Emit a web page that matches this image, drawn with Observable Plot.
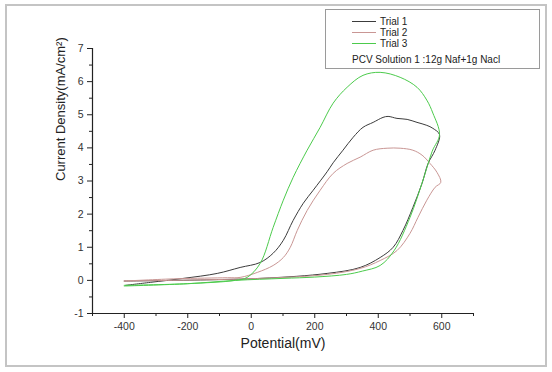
<!DOCTYPE html>
<html>
<head>
<meta charset="utf-8">
<script src="https://cdn.jsdelivr.net/npm/d3@7"></script>
<script src="https://cdn.jsdelivr.net/npm/@observablehq/plot@0.6"></script>
<style>
  html, body { margin: 0; padding: 0; background: #fff; }
  #wrap { position: relative; width: 552px; height: 372px; font-family: "Liberation Sans", Arial, sans-serif; overflow: hidden; }
  #border { position: absolute; left: 5px; top: 4px; width: 538px; height: 359px; border: 2px solid #c4c4c4; }
  #legend { position: absolute; left: 325px; top: 9px; width: 213px; height: 58px; border: 1px solid #9a9a9a; background: #fff; font-size: 10px; color: #222; }
  .row { position: absolute; left: 26px; height: 11px; display: flex; align-items: center; }
  .row svg { margin-right: 4px; }
  #note { position: absolute; left: 26px; top: 44px; font-size: 10px; white-space: nowrap; }
  #chart { position: absolute; left: 0; top: 0; }
</style>
</head>
<body>
<div id="wrap">
  <div id="border"></div>
  <div id="chart"></div>
  <div id="legend"></div>
</div>
<script>
// Series names and colours
const seriesNames = ["Trial 1", "Trial 2", "Trial 3"];
const seriesColors = ["#3c3c3c", "#c99694", "#4ccb4c"];
const noteText = "PCV Solution 1 :12g Naf+1g Nacl";

// Trial 1 (forward scan, then reverse scan)
const trial1Potential = [-400, 28, 239, 343, 406, 447, 478, 509, 538, 557, 579, 593,
  572, 553, 522, 491, 459, 431, 415, 384, 352, 321, 289, 258, 239, 195, 164, 132, 101, 69, 28, -35, -107, -214, -318, -396];
const trial1Current = [-0.02, 0.06, 0.21, 0.39, 0.69, 1.0, 1.51, 2.2, 2.93, 3.53, 3.93, 4.4,
  4.59, 4.68, 4.77, 4.86, 4.89, 4.95, 4.92, 4.77, 4.62, 4.32, 3.93, 3.55, 3.28, 2.72, 2.33, 1.81, 1.21, 0.82, 0.54, 0.39, 0.21, 0.06, -0.06, -0.15];

// Trial 2
const trial2Potential = [-400, 28, 239, 343, 406, 459, 500, 525, 553, 579, 597,
  585, 563, 538, 509, 469, 428, 384, 343, 302, 258, 217, 176, 145, 123, 101, 69, 19, -35, -75, -233, -400];
const trial2Current = [-0.02, 0.06, 0.18, 0.36, 0.6, 0.9, 1.42, 1.9, 2.42, 2.81, 2.96,
  3.26, 3.53, 3.78, 3.93, 3.99, 3.99, 3.93, 3.72, 3.53, 3.23, 2.72, 2.11, 1.51, 1.0, 0.69, 0.45, 0.24, 0.09, 0.08, 0.05, -0.02];

// Trial 3
const trial3Potential = [-400, -200, -50, 100, 200, 300, 350, 406, 450, 500, 540, 570, 593,
  572, 553, 522, 469, 406, 352, 302, 258, 217, 176, 132, 101, 69, 28, -13, -50, -200, -400];
const trial3Current = [-0.15, -0.1, 0.0, 0.06, 0.1, 0.18, 0.28, 0.45, 0.9, 1.9, 3.0, 3.9, 4.4,
  5.05, 5.44, 5.83, 6.13, 6.28, 6.19, 5.83, 5.35, 4.62, 3.93, 3.11, 2.42, 1.6, 0.51, 0.09, 0.0, -0.1, -0.17];

// Axis settings
const xDomain = [-500, 700];
const yDomain = [-1, 7];
const xMajorTicks = [-400, -200, 0, 200, 400, 600];
const xMinorTicks = [-500, -300, -100, 100, 300, 500, 700];
const yMajorTicks = [-1, 0, 1, 2, 3, 4, 5, 6, 7];
const yMinorTicks = [-0.5, 0.5, 1.5, 2.5, 3.5, 4.5, 5.5, 6.5];
const xLabel = "Potential(mV)";
const yLabel = "Current Density(mA/cm²)";

const pots = [trial1Potential, trial2Potential, trial3Potential];
const curs = [trial1Current, trial2Current, trial3Current];
const data = [];
seriesNames.forEach((name, s) => {
  pots[s].forEach((p, i) => data.push({series: name, x: p, y: curs[s][i], order: i}));
});

const chart = Plot.plot({
  width: 552,
  height: 372,
  marginLeft: 92,
  marginRight: 79,
  marginTop: 48,
  marginBottom: 59,
  style: {fontFamily: "Liberation Sans, Arial, sans-serif", fontSize: "10px", color: "#333", background: "transparent"},
  x: {domain: xDomain},
  y: {domain: yDomain},
  color: {domain: seriesNames, range: seriesColors},
  marks: [
    Plot.line(data, {x: "x", y: "y", z: "series", stroke: "series", strokeWidth: 1, curve: "catmull-rom"}),
    Plot.ruleX([xDomain[0]], {stroke: "#222", strokeWidth: 1.2}),
    Plot.ruleY([yDomain[0]], {stroke: "#222", strokeWidth: 1.2}),
    Plot.axisX({ticks: xMajorTicks, tickSize: 5, tickPadding: 4, label: null, tickFormat: d => String(d), fontSize: 10.5, stroke: "#222"}),
    Plot.axisX({ticks: xMinorTicks, tickSize: 3, text: null, label: null, stroke: "#222"}),
    Plot.axisY({ticks: yMajorTicks, tickSize: 5, tickPadding: 4, label: null, tickFormat: d => String(d), fontSize: 10.5, stroke: "#222"}),
    Plot.axisY({ticks: yMinorTicks, tickSize: 3, text: null, label: null, stroke: "#222"}),
    Plot.text([xLabel], {frameAnchor: "bottom", dy: 34, text: d => d, fontSize: 14, fill: "#222"}),
    Plot.text([yLabel], {frameAnchor: "left", dx: -32, rotate: -90, text: d => d, fontSize: 13, fill: "#222"})
  ]
});
document.getElementById("chart").appendChild(chart);

// Legend
const legend = document.getElementById("legend");
seriesNames.forEach((name, i) => {
  const row = document.createElement("div");
  row.className = "row";
  row.style.top = (6 + i * 11) + "px";
  const ns = "http://www.w3.org/2000/svg";
  const sw = document.createElementNS(ns, "svg");
  sw.setAttribute("width", "24");
  sw.setAttribute("height", "3");
  const ln = document.createElementNS(ns, "line");
  ln.setAttribute("x1", "0"); ln.setAttribute("x2", "24");
  ln.setAttribute("y1", "1.5"); ln.setAttribute("y2", "1.5");
  ln.setAttribute("stroke", seriesColors[i]);
  ln.setAttribute("stroke-width", "1");
  sw.appendChild(ln);
  const t = document.createElement("span");
  t.textContent = name;
  row.appendChild(sw);
  row.appendChild(t);
  legend.appendChild(row);
});
const note = document.createElement("div");
note.id = "note";
note.textContent = noteText;
legend.appendChild(note);
</script>
</body>
</html>
